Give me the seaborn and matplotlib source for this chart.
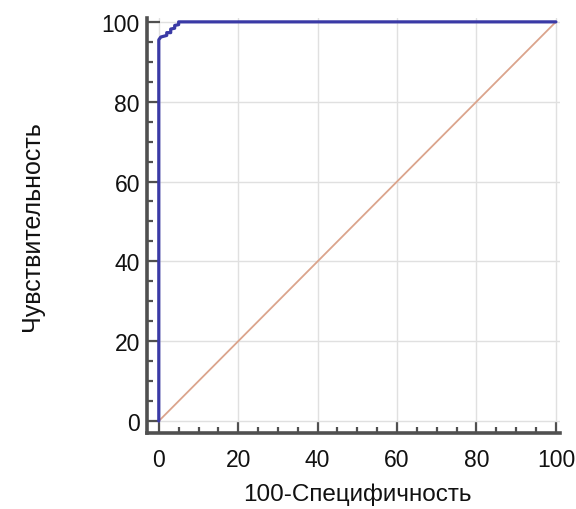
import matplotlib
matplotlib.use('Agg')
import matplotlib.pyplot as plt
import seaborn as sns
import pandas as pd
from matplotlib.ticker import MultipleLocator

# ROC curve points (100-specificity, sensitivity)
fpr = [0, 0, 0.5, 0.5, 2, 2, 3, 3, 4, 4, 5, 5, 100]
tpr = [0, 95.5, 96.2, 96.2, 96.6, 97.3, 97.3, 98.2, 98.4, 99.1, 99.3, 100, 100]
diag_x = [0, 100]
diag_y = [0, 100]

sns.set_style('white')
plt.rcParams['font.family'] = ['Liberation Sans', 'DejaVu Sans']

roc = pd.DataFrame({'fpr': fpr, 'tpr': tpr})
ref = pd.DataFrame({'x': diag_x, 'y': diag_y})

fig = plt.figure(figsize=(5.76, 5.1), dpi=100)
ax = fig.add_axes([0.255, 0.149, 0.717, 0.814])

sns.lineplot(data=ref, x='x', y='y', ax=ax, color='#dba48c', linewidth=1.3,
             sort=False, estimator=None)
sns.lineplot(data=roc, x='fpr', y='tpr', ax=ax, color='#3a3aa6', linewidth=2.3,
             sort=False, estimator=None)

ax.set_xlim(-3, 101)
ax.set_ylim(-3, 101)
ax.xaxis.set_major_locator(MultipleLocator(20))
ax.yaxis.set_major_locator(MultipleLocator(20))
ax.xaxis.set_minor_locator(MultipleLocator(5))
ax.yaxis.set_minor_locator(MultipleLocator(5))
ax.grid(True, which='major', color='#e0e0e0', linewidth=1.0)

for s in ['top', 'right']:
    ax.spines[s].set_visible(False)
for s in ['left', 'bottom']:
    ax.spines[s].set_linewidth(2.6)
    ax.spines[s].set_color('#505050')

ax.tick_params(which='major', direction='in', length=9, width=1.6, color='#505050',
               labelsize=16.5, labelcolor='#111111', left=True, bottom=True)
ax.tick_params(which='minor', direction='in', length=4.5, width=1.6, color='#505050',
               left=True, bottom=True)
ax.tick_params(axis='x', which='major', pad=11)
ax.tick_params(axis='y', which='major', pad=5)

ax.set_xlabel('100-Специфичность', fontsize=17.5, color='#111111')
ax.set_ylabel('Чувствительность', fontsize=18, color='#111111')
ax.xaxis.set_label_coords(0.51, -0.12)
ax.yaxis.set_label_coords(-0.25, 0.5)

fig.savefig('out.png', dpi=100)
